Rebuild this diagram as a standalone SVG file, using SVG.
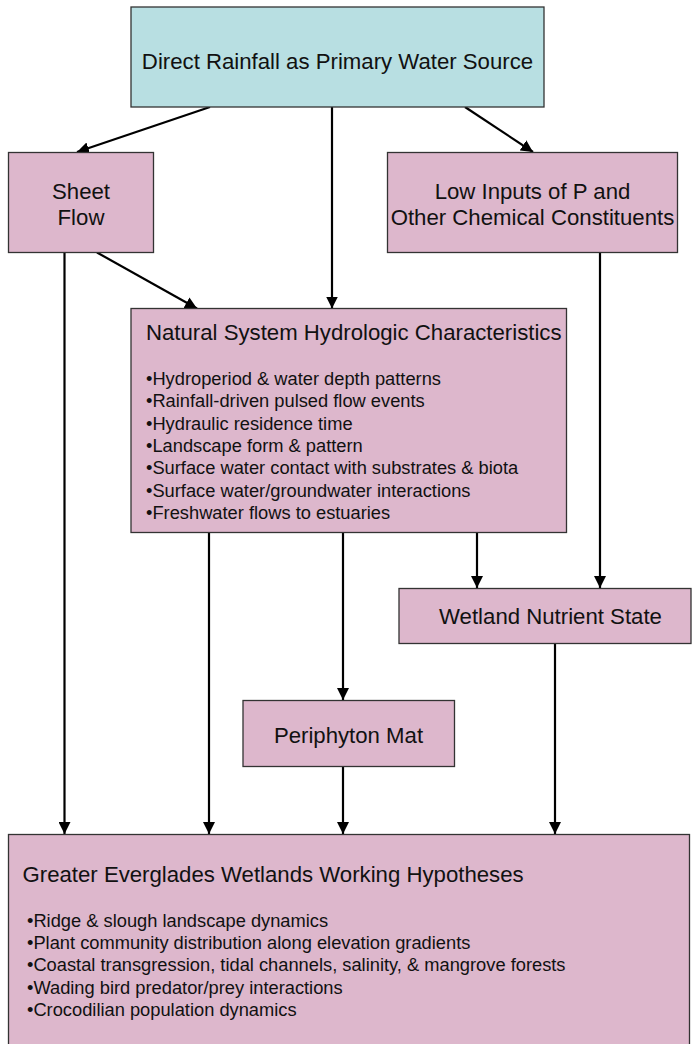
<svg xmlns="http://www.w3.org/2000/svg" width="692" height="1044" viewBox="0 0 692 1044">
<style>
.box{fill:#ddb7cc;stroke:#333;stroke-width:1.3}
.top{fill:#b8dfe2;stroke:#333;stroke-width:1.3}
.t{font-family:"Liberation Sans",Arial,sans-serif;font-size:22.2px;fill:#111}
.c{text-anchor:middle}
.b{font-family:"Liberation Sans",Arial,sans-serif;font-size:18.3px;fill:#111}
.e{stroke:#000;stroke-width:2.2;fill:none;marker-end:url(#ah)}
</style>
<defs>
<marker id="ah" markerUnits="userSpaceOnUse" markerWidth="12" markerHeight="12" refX="12" refY="6" orient="auto">
<path d="M0,0 L12,6 L0,12 z" fill="#000"/>
</marker>
</defs>
<g id="connectors">
<line class="e" x1="210" y1="107" x2="77" y2="152"/>
<line class="e" x1="332" y1="107" x2="332" y2="308.5"/>
<line class="e" x1="465" y1="107" x2="533" y2="152"/>
<line class="e" x1="97" y1="252.5" x2="197" y2="308.5"/>
<line class="e" x1="64.5" y1="252.5" x2="64.5" y2="834"/>
<line class="e" x1="600" y1="252.5" x2="600" y2="588"/>
<line class="e" x1="209" y1="532.5" x2="209" y2="834"/>
<line class="e" x1="343" y1="532.5" x2="343" y2="700"/>
<line class="e" x1="477" y1="532.5" x2="477" y2="588"/>
<line class="e" x1="555" y1="643.5" x2="555" y2="834"/>
<line class="e" x1="343" y1="767" x2="343" y2="834"/>
</g>
<g id="rainfall">
<rect class="top" x="131" y="7" width="413" height="100"/>
<text class="t c" x="337.5" y="69">Direct Rainfall as Primary Water Source</text>
</g>
<g id="sheetflow">
<rect class="box" x="8.5" y="152.5" width="145" height="100"/>
<text class="t c" x="81" y="198.5">Sheet</text>
<text class="t c" x="81" y="224.5">Flow</text>
</g>
<g id="lowinputs">
<rect class="box" x="387.5" y="152.5" width="290" height="100"/>
<text class="t c" x="532.5" y="198.5">Low Inputs of P and</text>
<text class="t c" x="532.5" y="224.5">Other Chemical Constituents</text>
</g>
<g id="natural">
<rect class="box" x="131" y="308.5" width="435.5" height="224"/>
<text class="t" x="146" y="339.5">Natural System Hydrologic Characteristics</text>
<text class="b" x="146" y="385">•Hydroperiod &amp; water depth patterns</text>
<text class="b" x="146" y="407.3">•Rainfall-driven pulsed flow events</text>
<text class="b" x="146" y="429.6">•Hydraulic residence time</text>
<text class="b" x="146" y="451.9">•Landscape form &amp; pattern</text>
<text class="b" x="146" y="474.2">•Surface water contact with substrates &amp; biota</text>
<text class="b" x="146" y="496.5">•Surface water/groundwater interactions</text>
<text class="b" x="146" y="518.8">•Freshwater flows to estuaries</text>
</g>
<g id="nutrient">
<rect class="box" x="399" y="588.5" width="292" height="55"/>
<text class="t c" x="550.5" y="624.3">Wetland Nutrient State</text>
</g>
<g id="periphyton">
<rect class="box" x="243" y="700.5" width="211.5" height="66"/>
<text class="t c" x="348.5" y="742.7">Periphyton Mat</text>
</g>
<g id="hypotheses">
<rect class="box" x="8.5" y="834.5" width="681" height="220"/>
<text class="t" x="22.5" y="881.7">Greater Everglades Wetlands Working Hypotheses</text>
<text class="b" x="27" y="926.7">•Ridge &amp; slough landscape dynamics</text>
<text class="b" x="27" y="949">•Plant community distribution along elevation gradients</text>
<text class="b" x="27" y="971.3">•Coastal transgression, tidal channels, salinity, &amp; mangrove forests</text>
<text class="b" x="27" y="993.6">•Wading bird predator/prey interactions</text>
<text class="b" x="27" y="1015.9">•Crocodilian population dynamics</text>
</g>
</svg>
